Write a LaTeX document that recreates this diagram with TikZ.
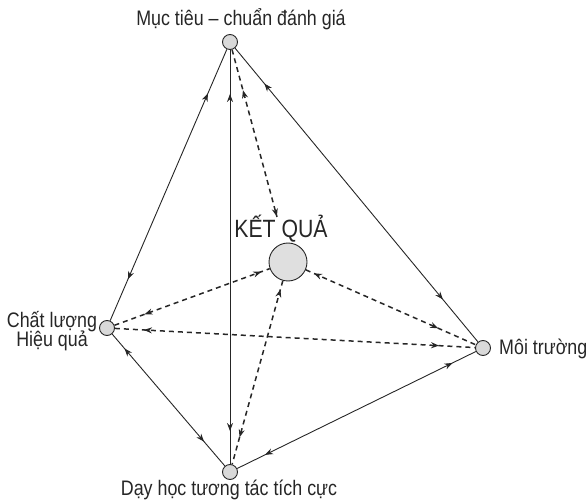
\documentclass[tikz,border=0pt]{standalone}
\usepackage{fontspec}
\setmainfont{Liberation Sans}[FakeStretch=0.85]
\usetikzlibrary{decorations.markings,arrows.meta}
\begin{document}
\begin{tikzpicture}[x=1pt,y=-1pt,
  pt/.style={circle,draw=black!85,line width=0.9pt,fill=gray!30,minimum size=15pt,inner sep=0pt},
  big/.style={circle,draw=black!85,line width=0.9pt,fill=gray!25,minimum size=38pt,inner sep=0pt},
  lbl/.style={font=\fontsize{21}{22}\selectfont,inner sep=0pt,text=black!85},
  sline/.style={draw=black!85,line width=0.9pt},
  dline/.style={draw=black!85,line width=1.5pt,dash pattern=on 5pt off 4pt},
  bi/.style 2 args={postaction={decorate,solid},decoration={markings,
     mark=at position #1 with {\arrowreversed{Stealth[length=8pt,width=6pt]}},
     mark=at position -#2 with {\arrow{Stealth[length=8pt,width=6pt]}}}}
]
\useasboundingbox (0,0) rectangle (586,502);
\node[pt] (T) at (230,42) {};
\node[pt] (L) at (107,328) {};
\node[pt] (R) at (483,348) {};
\node[pt] (B) at (230,472) {};
\node[big] (C) at (288,262) {};

\node[lbl,anchor=base] (tT) at (241,26) {Mục tiêu – chuẩn đánh giá};
\node[lbl,font=\fontsize{25}{26}\selectfont,anchor=base] (tC) at (281,238) {KẾT QUẢ};
\node[lbl,anchor=base] (tL1) at (52,328) {Chất lượng};
\node[lbl,anchor=base] (tL2) at (52,347) {Hiệu quả};
\node[lbl,anchor=base west] (tR) at (499,355) {Môi trường};
\node[lbl,anchor=base] (tB) at (229,495) {Dạy học tương tác tích cực};

\coordinate (cT) at (277,217);

\draw[sline,bi={48pt}{45pt}] (T) -- (L);
\draw[sline,bi={44pt}{33pt}] (T) -- (B);
\draw[dline,bi={42pt}{0.5pt}] (T) -- (cT);
\draw[sline,bi={46pt}{55pt}] (T) -- (R);
\draw[dline,bi={32pt}{9pt}] (L) -- (C);
\draw[dline,bi={29pt}{36pt}] (L) -- (R);
\draw[sline,bi={19pt}{32pt}] (L) -- (B);
\draw[dline,bi={9pt}{41pt}] (C) -- (R);
\draw[dline,bi={9pt}{28pt}] (C) -- (B);
\draw[sline,bi={31pt}{26pt}] (B) -- (R);
\end{tikzpicture}
\end{document}
